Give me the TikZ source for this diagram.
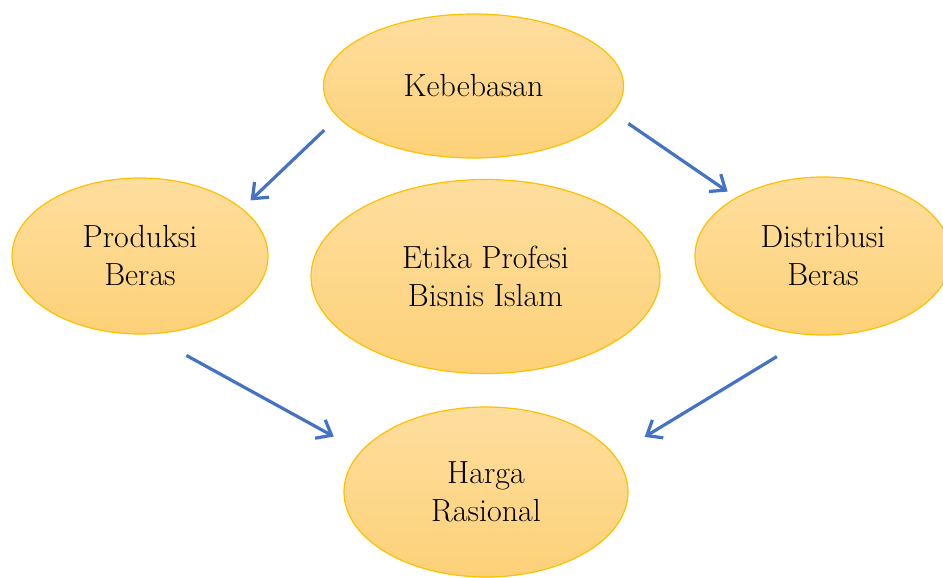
\documentclass[tikz,border=0pt]{standalone}
\usetikzlibrary{shapes.geometric,arrows.meta}
\definecolor{elltop}{RGB}{254,222,158}
\definecolor{ellbot}{RGB}{253,209,120}
\definecolor{ellline}{RGB}{255,192,0}
\definecolor{arrblue}{RGB}{68,114,196}
\begin{document}
\begin{tikzpicture}[x=1pt,y=1pt,
  ell/.style={ellipse, draw=ellline, line width=1.2pt, top color=elltop, bottom color=ellbot,
    inner sep=0pt, align=center, font=\fontsize{32}{38}\selectfont},
  conn/.style={draw=arrblue, line width=3.2pt,
    -{Straight Barb[length=13pt,width=21pt]}}]
\useasboundingbox (0,0) rectangle (943,-578);
\clip (0,0) rectangle (943,-578);
\node[ell, minimum width=300pt, minimum height=144pt] (keb) at (473.5,-86) {Kebebasan};
\node[ell, minimum width=256pt, minimum height=156pt] (prod) at (140,-256) {Produksi\\Beras};
\node[ell, minimum width=349pt, minimum height=194pt] (etika) at (485.5,-276.5) {Etika Profesi\\Bisnis Islam};
\node[ell, minimum width=256pt, minimum height=158pt] (dist) at (823,-256) {Distribusi\\Beras};
\node[ell, minimum width=284pt, minimum height=170pt] (harga) at (486,-492) {Harga\\Rasional};
\draw[conn, shorten <=18.5pt, shorten >=11.5pt] (keb.193.1) -- (prod.25.6);
\draw[conn, shorten <=18.3pt, shorten >=10.2pt] (keb.349.2) -- (dist.146.1);
\draw[conn, shorten <=43.5pt, shorten >=30.6pt] (prod.276.6) -- (harga.162.3);
\draw[conn, shorten <=41pt, shorten >=35pt] (dist.262.8) -- (harga.16.1);
\end{tikzpicture}
\end{document}
